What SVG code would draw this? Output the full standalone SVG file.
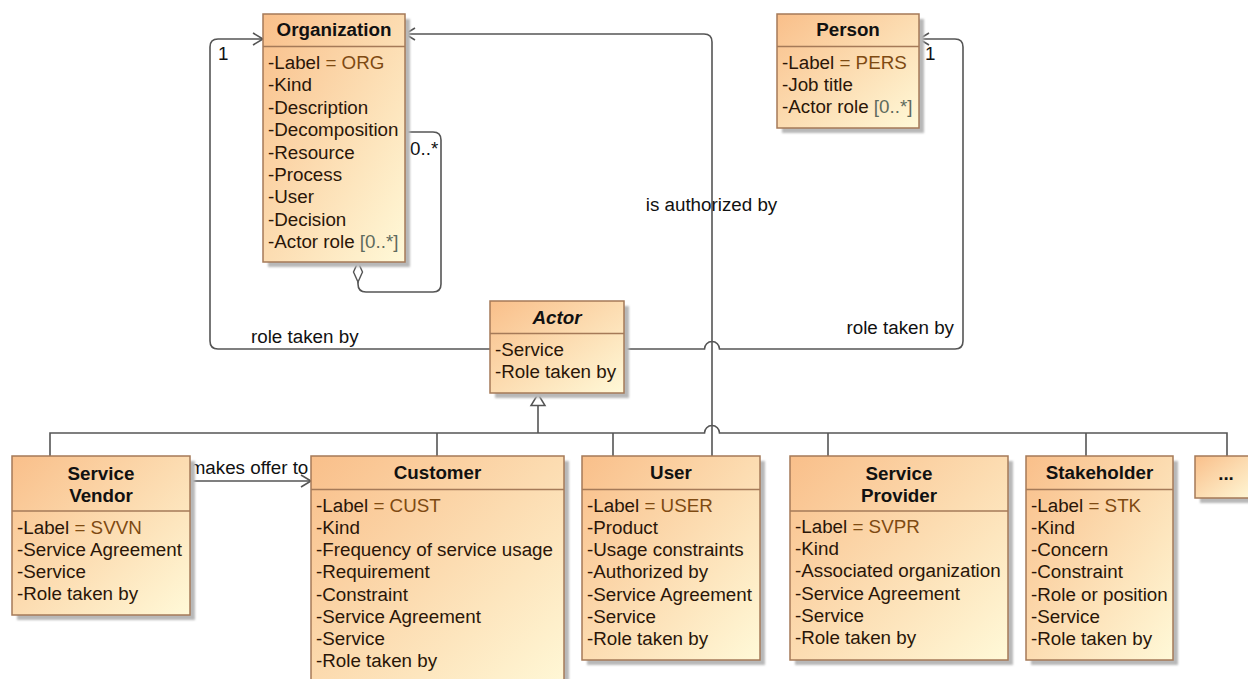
<svg xmlns="http://www.w3.org/2000/svg" width="1248" height="679" viewBox="0 0 1248 679">
<defs>
<linearGradient id="g" x1="0" y1="0" x2="1" y2="1">
<stop offset="0" stop-color="#F9BF8A"/>
<stop offset="1" stop-color="#FFF9D8"/>
</linearGradient>
<filter id="blur" x="-10%" y="-10%" width="130%" height="130%"><feGaussianBlur stdDeviation="1.2"/></filter>
<style>
.sh{fill:#B8B8B8;filter:url(#blur)}
.bx{fill:url(#g);stroke:#A57A58;stroke-width:1.5}
.sep{stroke:#A57A58;stroke-width:1.5}
text{font-family:"Liberation Sans",Arial,sans-serif;font-size:18.8px;fill:#2A1608}
.t{font-weight:bold;text-anchor:middle;fill:#111}
.ti{font-weight:bold;font-style:italic;text-anchor:middle;fill:#111}
.v{fill:#7E4A12}
.m{fill:#5E6B5E}
.lb{fill:#111}
.ln{fill:none;stroke:#555;stroke-width:1.6}
.ar{fill:none;stroke:#555;stroke-width:1.6}
</style>
</defs>
<rect width="1248" height="679" fill="#fff"/>

<g id="connectors">
<path class="ln" d="M712,456 V42 Q712,34 704,34 H405"/>
<path class="ar" d="M415,28 L405,34 L415,40"/>
<path class="ln" d="M490,349 H218 Q210,349 210,341 V47 Q210,39 218,39 H263"/>
<path class="ar" d="M253,33 L263,39 L253,45"/>
<path class="ln" d="M624,349 H704.5 A7.5,7.5 0 0 1 719.5,349 H955 Q963,349 963,341 V47 Q963,39 955,39 H919"/>
<path class="ar" d="M929,33 L919,39 L929,45"/>
<path class="ln" d="M358,282 V284 Q358,292 366,292 H433 Q441,292 441,284 V140 Q441,132 433,132 H405"/>
<path d="M358,262 L362.5,272 L358,282 L353.5,272 Z" fill="#fff" stroke="#555" stroke-width="1.4"/>
<path class="ln" d="M50,456 V433 H704.5 A7.5,7.5 0 0 1 719.5,433 H1227 V456"/>
<path class="ln" d="M437,433 V456 M613,433 V456 M828,433 V456 M1086,433 V456 M538,433 V405.5"/>
<path d="M538,394 L545,405.5 L531,405.5 Z" fill="#fff" stroke="#555" stroke-width="1.5"/>
<path class="ln" d="M190,481 H311"/>
<path class="ar" d="M301,475 L311,481 L301,487"/>
<text class="lb" x="218" y="60">1</text>
<text class="lb" x="925" y="60">1</text>
<text class="lb" x="410" y="155">0..*</text>
<text class="lb" x="251" y="343">role taken by</text>
<text class="lb" x="954" y="334" text-anchor="end">role taken by</text>
<text class="lb" x="711.5" y="211" text-anchor="middle">is authorized by</text>
<text class="lb" x="249" y="473.5" text-anchor="middle">makes offer to</text>
</g>

<g id="organization">
<rect class="sh" x="268" y="19" width="142" height="248"/>
<rect class="bx" x="263" y="14" width="142" height="248"/>
<line class="sep" x1="263" y1="46.5" x2="405" y2="46.5"/>
<text class="t" x="334" y="36">Organization</text>
<text x="268" y="69">-Label<tspan class="v"> = ORG</tspan></text>
<text x="268" y="91.4">-Kind</text>
<text x="268" y="113.8">-Description</text>
<text x="268" y="136.2">-Decomposition</text>
<text x="268" y="158.6">-Resource</text>
<text x="268" y="181">-Process</text>
<text x="268" y="203.4">-User</text>
<text x="268" y="225.8">-Decision</text>
<text x="268" y="248.2">-Actor role <tspan class="m">[0..*]</tspan></text>
</g>

<g id="person">
<rect class="sh" x="782" y="19" width="142" height="114"/>
<rect class="bx" x="777" y="14" width="142" height="114"/>
<line class="sep" x1="777" y1="46.5" x2="919" y2="46.5"/>
<text class="t" x="848" y="36">Person</text>
<text x="782" y="68.5">-Label<tspan class="v"> = PERS</tspan></text>
<text x="782" y="90.7">-Job title</text>
<text x="782" y="112.9">-Actor role <tspan class="m">[0..*]</tspan></text>
</g>

<g id="actor">
<rect class="sh" x="495" y="306" width="134" height="92"/>
<rect class="bx" x="490" y="301" width="134" height="92"/>
<line class="sep" x1="490" y1="333.5" x2="624" y2="333.5"/>
<text class="ti" x="557" y="323.5">Actor</text>
<text x="495" y="355.5">-Service</text>
<text x="495" y="377.7">-Role taken by</text>
</g>

<g id="service-vendor">
<rect class="sh" x="17" y="461" width="178" height="159"/>
<rect class="bx" x="12" y="456" width="178" height="159"/>
<line class="sep" x1="12" y1="511" x2="190" y2="511"/>
<text class="t" x="101" y="479.5">Service</text>
<text class="t" x="101" y="501.5">Vendor</text>
<text x="17" y="533.5">-Label<tspan class="v"> = SVVN</tspan></text>
<text x="17" y="555.7">-Service Agreement</text>
<text x="17" y="577.9">-Service</text>
<text x="17" y="600.1">-Role taken by</text>
</g>

<g id="customer">
<rect class="sh" x="316" y="461" width="253" height="240"/>
<rect class="bx" x="311" y="456" width="253" height="240"/>
<line class="sep" x1="311" y1="489.5" x2="564" y2="489.5"/>
<text class="t" x="437.5" y="479">Customer</text>
<text x="316" y="511.7">-Label<tspan class="v"> = CUST</tspan></text>
<text x="316" y="533.9">-Kind</text>
<text x="316" y="556.1">-Frequency of service usage</text>
<text x="316" y="578.3">-Requirement</text>
<text x="316" y="600.5">-Constraint</text>
<text x="316" y="622.7">-Service Agreement</text>
<text x="316" y="644.9">-Service</text>
<text x="316" y="667.1">-Role taken by</text>
</g>

<g id="user">
<rect class="sh" x="587" y="461" width="178" height="204"/>
<rect class="bx" x="582" y="456" width="178" height="204"/>
<line class="sep" x1="582" y1="489.5" x2="760" y2="489.5"/>
<text class="t" x="671" y="479">User</text>
<text x="587" y="511.7">-Label<tspan class="v"> = USER</tspan></text>
<text x="587" y="533.9">-Product</text>
<text x="587" y="556.1">-Usage constraints</text>
<text x="587" y="578.3">-Authorized by</text>
<text x="587" y="600.5">-Service Agreement</text>
<text x="587" y="622.7">-Service</text>
<text x="587" y="644.9">-Role taken by</text>
</g>

<g id="service-provider">
<rect class="sh" x="795" y="461" width="218" height="204"/>
<rect class="bx" x="790" y="456" width="218" height="204"/>
<line class="sep" x1="790" y1="511" x2="1008" y2="511"/>
<text class="t" x="899" y="479.5">Service</text>
<text class="t" x="899" y="501.5">Provider</text>
<text x="795" y="533">-Label<tspan class="v"> = SVPR</tspan></text>
<text x="795" y="555.2">-Kind</text>
<text x="795" y="577.4">-Associated organization</text>
<text x="795" y="599.6">-Service Agreement</text>
<text x="795" y="621.8">-Service</text>
<text x="795" y="644">-Role taken by</text>
</g>

<g id="stakeholder">
<rect class="sh" x="1031" y="461" width="147" height="204"/>
<rect class="bx" x="1026" y="456" width="147" height="204"/>
<line class="sep" x1="1026" y1="489.5" x2="1173" y2="489.5"/>
<text class="t" x="1099.5" y="479">Stakeholder</text>
<text x="1031" y="511.7">-Label<tspan class="v"> = STK</tspan></text>
<text x="1031" y="533.9">-Kind</text>
<text x="1031" y="556.1">-Concern</text>
<text x="1031" y="578.3">-Constraint</text>
<text x="1031" y="600.5">-Role or position</text>
<text x="1031" y="622.7">-Service</text>
<text x="1031" y="644.9">-Role taken by</text>
</g>

<g id="more">
<rect class="sh" x="1200" y="461" width="60" height="42"/>
<rect class="bx" x="1195" y="456" width="60" height="42"/>
<text class="t" x="1226" y="480">...</text>
</g>
</svg>
